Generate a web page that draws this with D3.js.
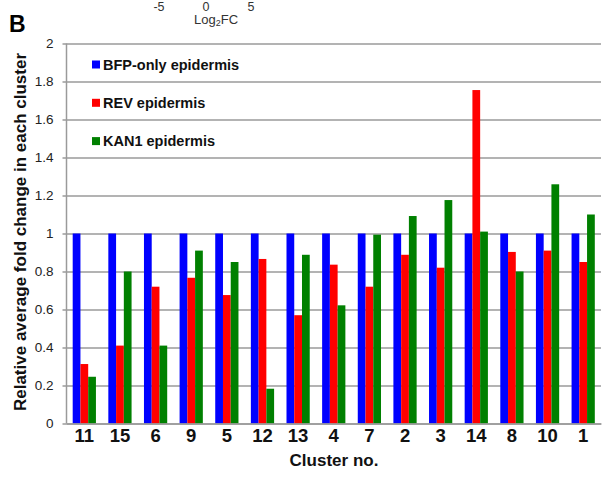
<!DOCTYPE html>
<html>
<head>
<meta charset="utf-8">
<script src="https://cdnjs.cloudflare.com/ajax/libs/d3/7.8.5/d3.min.js"></script>
<style>
    body { margin: 0; background: #fff; }
    text { font-family: "Liberation Sans", Arial, sans-serif; }
</style>
</head>
<body>
<div id="chartdiv"></div>
<script>
/*global d3 */
"use strict";

// data
var clusters = ["11", "15", "6", "9", "5", "12", "13", "4", "7",
                "2", "3", "14", "8", "10", "1"];
var seriesNames = ["BFP-only epidermis", "REV epidermis", "KAN1 epidermis"];
var seriesColors = ["#0000ff", "#ff0000", "#008000"];
var bfpVals = [1, 1, 1, 1, 1, 1, 1, 1, 1, 1, 1, 1, 1, 1, 1];
var revVals = [0.313, 0.41, 0.72, 0.767, 0.676, 0.866, 0.57, 0.836, 0.72,
               0.888, 0.82, 1.755, 0.903, 0.91, 0.85];
var kanVals = [0.246, 0.80, 0.41, 0.91, 0.85, 0.183, 0.888, 0.622, 0.994,
               1.092, 1.176, 1.01, 0.80, 1.259, 1.10];
var yTicks = [0, 0.2, 0.4, 0.6, 0.8, 1, 1.2, 1.4, 1.6, 1.8, 2];
var topTicks = ["-5", "0", "5"];

var W = 605, H = 477;
var plot = {left: 66.5, right: 601, top: 43.5, bottom: 423.5};

var svg = d3.select("#chartdiv").append("svg")
    .attr("width", W).attr("height", H);

////////////////////////////////////////
// leftover of the panel above
////////////////////////////////////////
var topx = d3.scalePoint().domain(topTicks).range([161, 251]);
svg.selectAll("text.toptick").data(topTicks).enter().append("text")
    .attr("class", "toptick")
    .attr("x", function (d) { return topx(d) - (d === "-5" ? 2 : 0); })
    .attr("y", 11)
    .attr("text-anchor", "middle")
    .style("font-size", "12.5px").attr("fill", "#333")
    .text(function (d) { return d; });
var lg = svg.append("text").attr("x", 216).attr("y", 23.5)
    .attr("text-anchor", "middle").style("font-size", "13px")
    .attr("fill", "#333");
lg.append("tspan").text("Log");
lg.append("tspan").attr("dy", 2).style("font-size", "9px").text("2");
lg.append("tspan").attr("dy", -2).text("FC");

svg.append("text").attr("x", 9).attr("y", 32)
    .style("font-size", "23px").style("font-weight", "bold")
    .text("B");

////////////////////////////////////////
// scales
////////////////////////////////////////
var y = d3.scaleLinear().domain([0, 2])
    .range([plot.bottom, plot.top]);
var x0 = d3.scaleBand().domain(clusters)
    .range([plot.left, plot.right]);
var x1 = d3.scaleBand().domain(seriesNames)
    .range([0, x0.bandwidth()]).paddingOuter(0.8);

// gridlines + y axis
var yAxis = d3.axisLeft(y).tickValues(yTicks)
    .tickSize(-(plot.right - plot.left + 4)).tickPadding(9)
    .tickFormat(function (d) { return String(d); });
var yg = svg.append("g")
    .attr("transform", "translate(" + (plot.left - 4) + ",0)")
    .call(yAxis);
yg.select(".domain").remove();
yg.selectAll(".tick line").attr("stroke", "#9a9a9a")
    .attr("stroke-width", 1.5);
yg.selectAll(".tick text").style("font-size", "13.5px")
    .style("font-family", "Liberation Sans, Arial, sans-serif")
    .attr("fill", "#222");
svg.append("line")
    .attr("x1", plot.left).attr("x2", plot.left)
    .attr("y1", plot.top).attr("y2", plot.bottom)
    .attr("stroke", "#9a9a9a").attr("stroke-width", 1.5);

////////////////////////////////////////
// bars
////////////////////////////////////////
var allVals = [bfpVals, revVals, kanVals];
var rows = clusters.map(function (c, i) {
    return {cluster: c, vals: seriesNames.map(function (s, j) {
        return {series: s, color: seriesColors[j], v: allVals[j][i]}; })};
});
var groups = svg.selectAll("g.cluster").data(rows).enter().append("g")
    .attr("class", "cluster")
    .attr("transform", function (d) {
        return "translate(" + x0(d.cluster) + ",0)"; });
groups.selectAll("rect").data(function (d) { return d.vals; })
    .enter().append("rect")
    .attr("x", function (d) { return x1(d.series); })
    .attr("width", x1.bandwidth())
    .attr("y", function (d) { return y(d.v); })
    .attr("height", function (d) { return y(0) - y(d.v); })
    .attr("fill", function (d) { return d.color; });

// x axis
var xg = svg.append("g")
    .attr("transform", "translate(0," + plot.bottom + ")")
    .call(d3.axisBottom(x0).tickSize(0).tickPadding(5));
xg.select(".domain").attr("stroke", "#9a9a9a").attr("stroke-width", 1.5);
xg.selectAll(".tick text").style("font-size", "18.5px")
    .style("font-weight", "bold")
    .style("font-family", "Liberation Sans, Arial, sans-serif")
    .attr("fill", "#111");

svg.append("text").attr("x", 334).attr("y", 466)
    .attr("text-anchor", "middle")
    .style("font-size", "17px").style("font-weight", "bold")
    .attr("fill", "#111").text("Cluster no.");

svg.append("text")
    .attr("transform", "translate(26,232) rotate(-90)")
    .attr("text-anchor", "middle")
    .style("font-size", "17px").style("font-weight", "bold")
    .attr("fill", "#111")
    .text("Relative average fold change in each cluster");

////////////////////////////////////////
// legend
////////////////////////////////////////
var leg = svg.selectAll("g.legend").data(seriesNames).enter().append("g")
    .attr("class", "legend")
    .attr("transform", function (d, i) {
        return "translate(92," + (64.5 + i * 38.3) + ")"; });
leg.append("rect").attr("x", 0).attr("y", -4).attr("width", 8)
    .attr("height", 8)
    .attr("fill", function (d, i) { return seriesColors[i]; });
leg.append("text").attr("x", 11).attr("y", 5)
    .style("font-size", "14.5px").style("font-weight", "bold")
    .attr("fill", "#111")
    .text(function (d) { return d; });
</script>
</body>
</html>
